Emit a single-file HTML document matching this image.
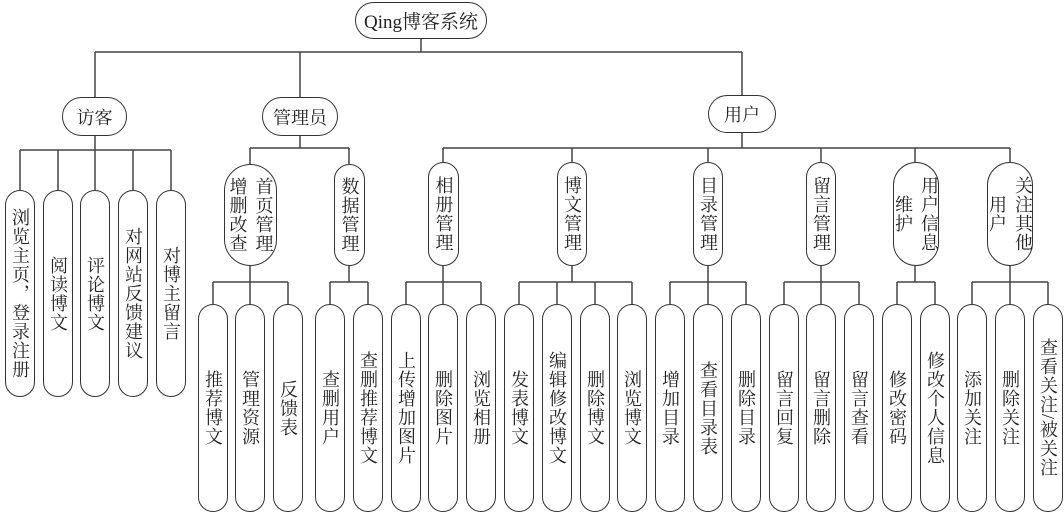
<!DOCTYPE html>
<html><head><meta charset="utf-8"><style>
body{margin:0;width:1064px;height:512px;background:#fff;position:relative;overflow:hidden;font-family:"Liberation Serif","Noto Serif CJK SC",serif;}
svg{position:absolute;left:0;top:0}
.b{position:absolute;box-sizing:border-box;border:1.3px solid #333;background:#fff;border-radius:999px;display:flex;align-items:center;justify-content:center;color:#222;font-size:18px}
.v{writing-mode:vertical-rl;line-height:22px;letter-spacing:1px}
.cols{display:flex;flex-direction:row-reverse;align-items:center;gap:4px}
</style></head><body>
<svg width="1064" height="512" stroke="#444" stroke-width="1.5" fill="none">
<path d="M421 38V52M95 52H742M95 52V97M300 52V97M742 52V95"/>
<path d="M95 136V150M20 150H171M20 150V190M58 150V190M95 150V190M133 150V190M171 150V190"/>
<path d="M300 136V148M250 148H349M250 148V164M349 148V164"/>
<path d="M742 133V148M443 148H1010M443 148V162M572 148V162M708 148V162M821 148V162M915 148V162M1010 148V162"/>
<path d="M250 266V282M213 282H288M213 282V304M250 282V304M288 282V304"/>
<path d="M349 266V282M330 282H368M330 282V304M368 282V304"/>
<path d="M443 266V282M406 282H481M406 282V304M443 282V304M481 282V304"/>
<path d="M572 266V282M519 282H632M519 282V304M557 282V304M595 282V304M632 282V304"/>
<path d="M708 266V282M670 282H746M670 282V304M708 282V304M746 282V304"/>
<path d="M821 266V282M784 282H859M784 282V304M821 282V304M859 282V304"/>
<path d="M915 266V282M897 282H935M897 282V304M935 282V304"/>
<path d="M1010 266V282M972 282H1048M972 282V304M1010 282V304M1048 282V304"/>
</svg>
<div class="b" style="left:355px;top:2px;width:132px;height:37px;font-size:19px">Qing博客系统</div>
<div class="b" style="left:62px;top:97px;width:65px;height:39px">访客</div>
<div class="b" style="left:262px;top:97px;width:76px;height:39px">管理员</div>
<div class="b" style="left:708px;top:95px;width:68px;height:38px">用户</div>

<div class="b" style="left:5px;top:190px;width:30px;height:207px"><span class="v">浏览主页，登录注册</span></div>
<div class="b" style="left:43px;top:190px;width:30px;height:207px"><span class="v">阅读博文</span></div>
<div class="b" style="left:80px;top:190px;width:30px;height:207px"><span class="v">评论博文</span></div>
<div class="b" style="left:118px;top:190px;width:30px;height:207px"><span class="v">对网站反馈建议</span></div>
<div class="b" style="left:156px;top:190px;width:30px;height:207px"><span class="v">对博主留言</span></div>

<div class="b" style="left:224px;top:164px;width:53px;height:102px"><div class="cols"><span class="v">首页管理</span><span class="v">增删改查</span></div></div>
<div class="b" style="left:334px;top:164px;width:31px;height:102px"><span class="v">数据管理</span></div>
<div class="b" style="left:428px;top:162px;width:31px;height:104px"><span class="v">相册管理</span></div>
<div class="b" style="left:557px;top:162px;width:30px;height:104px"><span class="v">博文管理</span></div>
<div class="b" style="left:693px;top:162px;width:30px;height:104px"><span class="v">目录管理</span></div>
<div class="b" style="left:806px;top:162px;width:30px;height:104px"><span class="v">留言管理</span></div>
<div class="b" style="left:893px;top:162px;width:46px;height:104px"><div class="cols"><span class="v">用户信息</span><span class="v">维护</span></div></div>
<div class="b" style="left:987px;top:162px;width:46px;height:104px"><div class="cols"><span class="v">关注其他</span><span class="v">用户</span></div></div>

<div class="b" style="left:198px;top:304px;width:30px;height:208px"><span class="v">推荐博文</span></div>
<div class="b" style="left:235px;top:304px;width:30px;height:208px"><span class="v">管理资源</span></div>
<div class="b" style="left:273px;top:304px;width:30px;height:208px"><span class="v">反馈表</span></div>
<div class="b" style="left:315px;top:304px;width:30px;height:208px"><span class="v">查删用户</span></div>
<div class="b" style="left:353px;top:304px;width:30px;height:208px"><span class="v">查删推荐博文</span></div>
<div class="b" style="left:391px;top:304px;width:30px;height:208px"><span class="v">上传增加图片</span></div>
<div class="b" style="left:428px;top:304px;width:30px;height:208px"><span class="v">删除图片</span></div>
<div class="b" style="left:466px;top:304px;width:30px;height:208px"><span class="v">浏览相册</span></div>
<div class="b" style="left:504px;top:304px;width:30px;height:208px"><span class="v">发表博文</span></div>
<div class="b" style="left:542px;top:304px;width:30px;height:208px"><span class="v">编辑修改博文</span></div>
<div class="b" style="left:580px;top:304px;width:30px;height:208px"><span class="v">删除博文</span></div>
<div class="b" style="left:617px;top:304px;width:30px;height:208px"><span class="v">浏览博文</span></div>
<div class="b" style="left:655px;top:304px;width:30px;height:208px"><span class="v">增加目录</span></div>
<div class="b" style="left:693px;top:304px;width:30px;height:208px"><span class="v">查看目录表</span></div>
<div class="b" style="left:731px;top:304px;width:30px;height:208px"><span class="v">删除目录</span></div>
<div class="b" style="left:769px;top:304px;width:30px;height:208px"><span class="v">留言回复</span></div>
<div class="b" style="left:806px;top:304px;width:30px;height:208px"><span class="v">留言删除</span></div>
<div class="b" style="left:844px;top:304px;width:30px;height:208px"><span class="v">留言查看</span></div>
<div class="b" style="left:882px;top:304px;width:30px;height:208px"><span class="v">修改密码</span></div>
<div class="b" style="left:920px;top:304px;width:30px;height:208px"><span class="v">修改个人信息</span></div>
<div class="b" style="left:957px;top:304px;width:30px;height:208px"><span class="v">添加关注</span></div>
<div class="b" style="left:995px;top:304px;width:30px;height:208px"><span class="v">删除关注</span></div>
<div class="b" style="left:1033px;top:304px;width:30px;height:208px"><span class="v">查看关注/被关注</span></div>
</body></html>
